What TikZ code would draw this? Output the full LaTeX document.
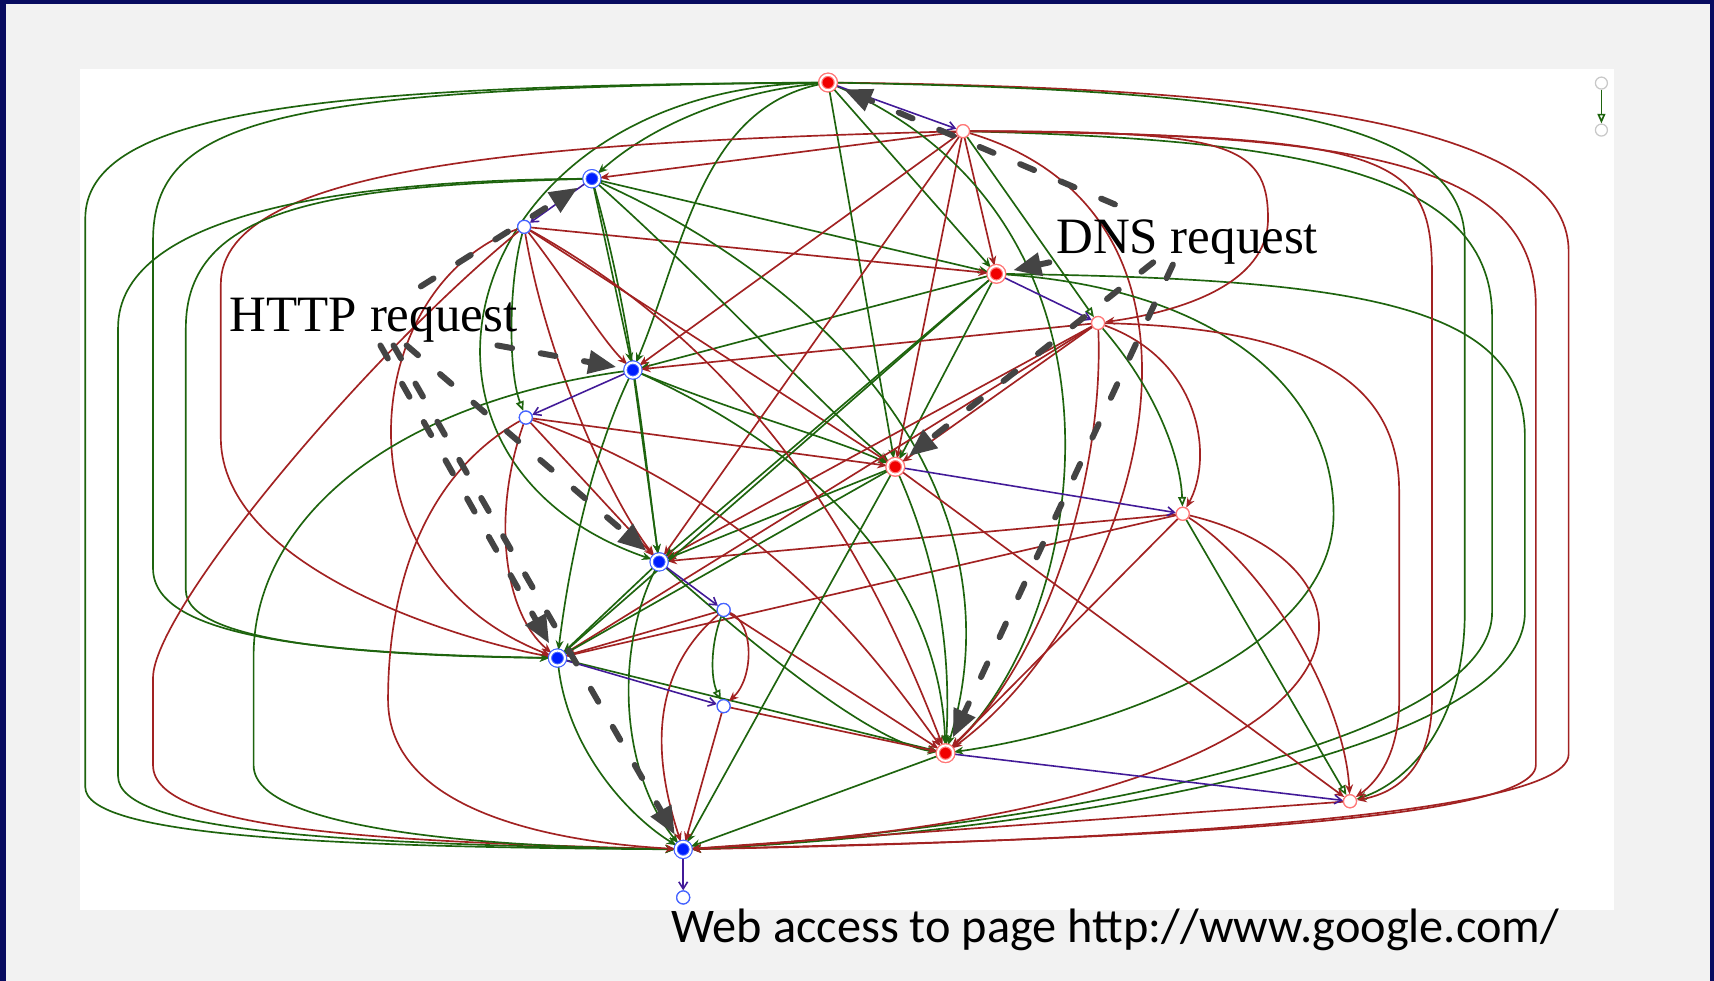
\documentclass[tikz,border=0pt]{standalone}
\usepackage{fontspec}
\setmainfont{Liberation Serif}
\newfontfamily\captionfont{Carlito}
\usetikzlibrary{arrows.meta}
\definecolor{frame}{RGB}{8,12,96}
\definecolor{panelgray}{RGB}{242,242,242}
\definecolor{eg}{RGB}{30,100,14}
\definecolor{er}{RGB}{162,34,34}
\definecolor{ep}{RGB}{66,26,152}
\definecolor{dashgray}{RGB}{68,68,68}
\definecolor{nodered}{RGB}{240,0,0}
\definecolor{ringred}{RGB}{255,120,120}
\definecolor{nodeblue}{RGB}{0,30,255}
\definecolor{ringblue}{RGB}{70,100,255}
\definecolor{leggray}{RGB}{200,200,200}
\begin{document}
\begin{tikzpicture}[x=0.021862cm,y=-0.021862cm,
  bigred/.style={circle,fill=nodered,draw=ringred,line width=0.7pt,double=white,double distance=1.1pt,minimum size=0.31cm,inner sep=0pt},
  bigblue/.style={circle,fill=nodeblue,draw=ringblue,line width=0.6pt,double=white,double distance=1.2pt,minimum size=0.30cm,inner sep=0pt},
  smallred/.style={circle,fill=white,draw=ringred,line width=0.7pt,minimum size=0.26cm,inner sep=0pt},
  smallblue/.style={circle,fill=white,draw=ringblue,line width=0.7pt,minimum size=0.26cm,inner sep=0pt},
  legnode/.style={circle,fill=white,draw=leggray,line width=0.7pt,minimum size=0.24cm,inner sep=0pt},
  ge/.style={draw=eg,line width=0.95pt,-{Stealth[length=5.5pt,width=4.5pt]}},
  re/.style={draw=er,line width=0.95pt,-{Stealth[length=5.5pt,width=4.5pt]}},
  gh/.style={draw=eg,line width=0.95pt,-{Triangle[open,length=5.5pt,width=4.5pt]}},
  pe/.style={draw=ep,line width=0.9pt,-{Straight Barb[length=4pt,width=5pt]}},
  dsh/.style={draw=dashgray,line width=3.4pt,line cap=round,dash pattern=on 0.3cm off 0.58cm,
    shorten >=5pt,-{Triangle[length=0.56cm,width=0.45cm]}},
  label/.style={font=\fontsize{29}{30}\selectfont,anchor=base west,inner sep=0pt}]

% background, frame and panel
\path[use as bounding box] (0,0) rectangle (1568,897);
\fill[frame] (0,0) rectangle (1568,897);
\fill[panelgray] (5.5,3.7) rectangle (1564,897);
\fill[white] (73.2,63.1) rectangle (1476.6,832.5);

% nodes
\node[bigred]    (r1) at (757.5,75.5) {};
\node[smallred]  (w1) at (881,120) {};
\node[bigblue]   (b1) at (541.5,163.5) {};
\node[smallblue] (w2) at (479.5,207.5) {};
\node[bigred]    (r2) at (911.5,250.5) {};
\node[smallred]  (w3) at (1004.5,295.5) {};
\node[bigblue]   (b2) at (579,338.5) {};
\node[smallblue] (w4) at (481,382) {};
\node[bigred]    (r3) at (819,427) {};
\node[smallred]  (w5) at (1082,470) {};
\node[bigblue]   (b3) at (603,514) {};
\node[smallblue] (w6) at (662,558) {};
\node[bigblue]   (b4) at (510,602) {};
\node[smallblue] (w7) at (662,646) {};
\node[bigred]    (r4) at (865,689) {};
\node[smallred]  (w8) at (1235,733) {};
\node[bigblue]   (b5) at (625,777) {};
\node[smallblue] (w9) at (625,821) {};
\node[legnode]   (l1) at (1465,76) {};
\node[legnode]   (l2) at (1465,119) {};

% edges into b1
\draw[ge] (r1) .. controls (660,85) and (590,120) .. (b1);
\draw[re] (w1) -- (b1);
% edges into r2
\draw[ge] (r1) -- (r2);
\draw[re] (w1) -- (r2);
\draw[ge] (b1) -- (r2);
\draw[re] (w2) -- (r2);
% edges into b2
\draw[ge] (r1) .. controls (640,100) and (625,230) .. (b2);
\draw[re] (w1) -- (b2);
\draw[ge] (b1) -- (b2);
\draw[re] (w2) .. controls (520,260) and (550,310) .. (b2);
\draw[ge] (r2) -- (b2);
\draw[re] (w3) -- (b2);
% edges into r3
\draw[ge] (r1) -- (r3);
\draw[re] (w1) -- (r3);
\draw[ge] (b1) .. controls (650,260) and (760,380) .. (r3);
\draw[re] (w2) -- (r3);
\draw[ge] (r2) -- (r3);
\draw[re] (w3) -- (r3);
\draw[ge] (b2) .. controls (680,380) and (760,400) .. (r3);
\draw[re] (w4) -- (r3);
% edges into b3
\draw[ge] (r1) .. controls (420,80) and (330,420) .. (b3);
\draw[re] (w1) -- (b3);
\draw[ge] (b1) .. controls (580,300) and (590,420) .. (b3);
\draw[re] (w2) .. controls (500,330) and (560,460) .. (b3);
\draw[ge] (r2) -- (b3);
\draw[re] (w3) -- (b3);
\draw[ge] (b2) -- (b3);
\draw[ge] (r3) -- (b3);
\draw[re] (w4) -- (b3);
\draw[re] (w5) -- (b3);
% edges into b4
\draw[ge] (r1) .. controls (250,80) and (140,110) .. (140,220) -- (140,520) .. controls (140,585) and (300,598) .. (b4);
\draw[re] (w1) .. controls (500,130) and (202,150) .. (202,260) -- (202,400) .. controls (202,520) and (420,585) .. (b4);
\draw[ge] (b1) .. controls (300,170) and (170,190) .. (170,300) -- (170,540) .. controls (170,590) and (350,600) .. (b4);
\draw[re] (w2) .. controls (330,260) and (300,520) .. (b4);
\draw[ge] (r2) -- (b4);
\draw[re] (w3) -- (b4);
\draw[ge] (b2) .. controls (540,420) and (520,520) .. (b4);
\draw[re] (w4) .. controls (450,470) and (460,560) .. (b4);
\draw[ge] (r3) -- (b4);
\draw[re] (w5) -- (b4);
\draw[ge] (b3) -- (b4);
\draw[re] (w6) -- (b4);
% edges into r4
\draw[ge] (r1) .. controls (1050,200) and (1000,560) .. (r4);
\draw[re] (w1) .. controls (1150,200) and (1040,560) .. (r4);
\draw[ge] (b1) .. controls (800,280) and (930,480) .. (r4);
\draw[re] (w2) .. controls (700,330) and (800,520) .. (r4);
\draw[ge] (r2) .. controls (1120,265) and (1220,360) .. (1220,470) .. controls (1220,600) and (1000,670) .. (r4);
\draw[re] (w3) .. controls (1010,430) and (960,600) .. (r4);
\draw[ge] (b2) .. controls (760,420) and (860,540) .. (r4);
\draw[re] (w4) .. controls (700,460) and (800,600) .. (r4);
\draw[ge] (r3) .. controls (860,520) and (870,600) .. (r4);
\draw[re] (w5) -- (r4);
\draw[ge] (b3) .. controls (700,600) and (800,680) .. (r4);
\draw[re] (w6) -- (r4);
\draw[ge] (b4) -- (r4);
\draw[re] (w7) -- (r4);
% edges into b5
\draw[ge] (r1) .. controls (300,78) and (78,100) .. (78,200) -- (78,720) .. controls (78,765) and (300,775) .. (b5);
\draw[re] (r1) .. controls (1150,80) and (1435,110) .. (1435,230) -- (1435,690) .. controls (1435,755) and (900,772) .. (b5);
\draw[re] (w1) .. controls (1250,122) and (1405,150) .. (1405,280) -- (1405,700) .. controls (1405,760) and (900,770) .. (b5);
\draw[ge] (w1) .. controls (1200,128) and (1365,160) .. (1365,290) -- (1365,560) .. controls (1365,690) and (900,762) .. (b5);
\draw[ge] (b1) .. controls (300,165) and (108,200) .. (108,300) -- (108,710) .. controls (108,760) and (300,772) .. (b5);
\draw[re] (w2) .. controls (330,330) and (140,560) .. (140,620) -- (140,700) .. controls (140,760) and (350,770) .. (b5);
\draw[ge] (r2) .. controls (1250,255) and (1395,280) .. (1395,400) -- (1395,560) .. controls (1395,700) and (900,765) .. (b5);
\draw[ge] (b2) .. controls (350,370) and (232,480) .. (232,600) -- (232,700) .. controls (232,760) and (450,775) .. (b5);
\draw[re] (w4) .. controls (380,440) and (355,550) .. (355,640) .. controls (355,740) and (500,770) .. (b5);
\draw[ge] (r3) -- (b5);
\draw[re] (w5) .. controls (1290,520) and (1290,740) .. (b5);
\draw[ge] (b3) .. controls (560,600) and (570,710) .. (b5);
\draw[re] (w6) .. controls (590,620) and (600,700) .. (b5);
\draw[ge] (b4) .. controls (520,690) and (580,750) .. (b5);
\draw[re] (w7) -- (b5);
\draw[ge] (r4) -- (b5);
\draw[re] (w8) -- (b5);
% edges into the small nodes
\draw[gh] (w1) -- (w3);
\draw[re] (w1) .. controls (1120,120) and (1160,130) .. (1160,200) .. controls (1160,260) and (1080,285) .. (w3);
\draw[gh] (w3) .. controls (1060,360) and (1080,420) .. (w5);
\draw[re] (w3) .. controls (1100,330) and (1110,420) .. (w5);
\draw[gh] (w5) -- (w8);
\draw[re] (w5) .. controls (1160,520) and (1230,640) .. (w8);
\draw[re] (r3) -- (w8);
\draw[ge] (r1) .. controls (1100,82) and (1340,100) .. (1340,220) -- (1340,560) .. controls (1340,660) and (1290,715) .. (w8);
\draw[re] (w1) .. controls (1270,124) and (1310,140) .. (1310,250) -- (1310,640) .. controls (1310,700) and (1280,725) .. (w8);
\draw[re] (w3) .. controls (1200,300) and (1280,350) .. (1280,450) -- (1280,640) .. controls (1280,690) and (1260,715) .. (w8);
\draw[gh] (w6) .. controls (650,590) and (650,620) .. (w7);
\draw[re] (w6) .. controls (690,570) and (690,620) .. (w7);
\draw[gh] (w2) .. controls (465,260) and (465,340) .. (w4);
% sibling edges
\draw[pe] (r1) -- (w1);
\draw[pe] (b1) -- (w2);
\draw[pe] (r2) -- (w3);
\draw[pe] (b2) -- (w4);
\draw[pe] (r3) -- (w5);
\draw[pe] (b3) -- (w6);
\draw[pe] (b4) -- (w7);
\draw[pe] (r4) -- (w8);
\draw[pe] (b5) -- (w9);
% legend
\draw[gh] (l1) -- (l2);

% nodes drawn again above the edges
\foreach \n/\s in {r1/bigred,r2/bigred,r3/bigred,r4/bigred,b1/bigblue,b2/bigblue,b3/bigblue,b4/bigblue,b5/bigblue,
  w1/smallred,w3/smallred,w5/smallred,w8/smallred,w2/smallblue,w4/smallblue,w6/smallblue,w7/smallblue,w9/smallblue}
  \node[\s] at (\n) {};

% request labels
\node[label] (dns) at (966,231.5) {DNS request};
\node[label] (http) at (210,303.4) {HTTP request};

% request paths
\coordinate (d1) at (1020,187);
\coordinate (d2) at (960,240);
\coordinate (d3) at (1055,240);
\coordinate (d4) at (1073,242);
\draw[dsh] (d1) -- (r1);
\draw[dsh] (d2) -- (r2);
\draw[dsh] (d3) -- (r3);
\draw[dsh] (d4) -- (r4);
\coordinate (h1) at (385,262);
\coordinate (h2) at (455,316);
\coordinate (h3) at (372,316);
\coordinate (h4) at (348,316);
\coordinate (h5) at (360,316);
\draw[dsh] (h1) -- (b1);
\draw[dsh] (h2) -- (b2);
\draw[dsh] (h3) -- (b3);
\draw[dsh] (h4) -- (b4);
\draw[dsh] (h5) -- (b5);

% caption
\node[font=\captionfont\fontsize{27.5}{29}\selectfont,anchor=base west,inner sep=0pt] (cap) at (614,862) {Web access to page http://www.google.com/};
\end{tikzpicture}
\end{document}
